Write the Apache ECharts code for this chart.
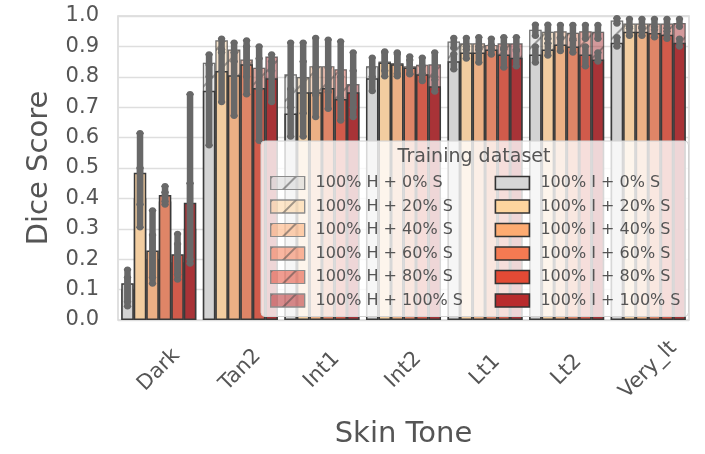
<!DOCTYPE html>
<html>
<head>
<meta charset="utf-8">
<script src="https://cdn.jsdelivr.net/npm/echarts@6/dist/echarts.min.js"></script>
<style>
  html, body { margin: 0; padding: 0; background: #ffffff; }
  #chart { width: 705px; height: 454px; }
</style>
</head>
<body>
<div id="chart"></div>
<script>
// Skin-tone categories on the x axis
const skinTones = ['Dark', 'Tan2', 'Int1', 'Int2', 'Lt1', 'Lt2', 'Very_lt'];
// Share of synthetic images mixed into each training set
const mixes = ['0%', '20%', '40%', '60%', '80%', '100%'];
const yTicks = [0, 0.1, 0.2, 0.3, 0.4, 0.5, 0.6, 0.7, 0.8, 0.9, 1.0];

// "100% I + x% S" runs: mean Dice and confidence interval (rows follow mixes)
const iMean = [
  [0.121, 0.754, 0.679, 0.795, 0.851, 0.873, 0.912],
  [0.484, 0.819, 0.749, 0.847, 0.880, 0.890, 0.948],
  [0.229, 0.805, 0.749, 0.841, 0.880, 0.906, 0.948],
  [0.411, 0.841, 0.763, 0.831, 0.890, 0.900, 0.944],
  [0.216, 0.763, 0.727, 0.808, 0.873, 0.873, 0.938],
  [0.386, 0.795, 0.749, 0.769, 0.863, 0.857, 0.912]
];
const iLow = [
  [0.045, 0.575, 0.604, 0.753, 0.825, 0.847, 0.900],
  [0.380, 0.717, 0.604, 0.802, 0.860, 0.870, 0.935],
  [0.140, 0.672, 0.668, 0.802, 0.847, 0.885, 0.935],
  [0.390, 0.743, 0.695, 0.808, 0.873, 0.880, 0.930],
  [0.150, 0.590, 0.656, 0.786, 0.831, 0.835, 0.925],
  [0.200, 0.717, 0.668, 0.752, 0.835, 0.850, 0.900]
];
const iHigh = [
  [0.165, 0.840, 0.760, 0.830, 0.875, 0.900, 0.930],
  [0.614, 0.890, 0.850, 0.880, 0.900, 0.910, 0.960],
  [0.360, 0.880, 0.830, 0.875, 0.900, 0.925, 0.960],
  [0.440, 0.900, 0.830, 0.855, 0.905, 0.920, 0.955],
  [0.283, 0.860, 0.800, 0.835, 0.895, 0.900, 0.950],
  [0.743, 0.850, 0.820, 0.790, 0.885, 0.880, 0.925]
];

// "100% H + x% S" runs: mean Dice and confidence interval
const hMean = [
  [0.100, 0.846, 0.808, 0.835, 0.916, 0.955, 0.985],
  [0.400, 0.920, 0.799, 0.850, 0.910, 0.948, 0.975],
  [0.200, 0.890, 0.835, 0.845, 0.910, 0.950, 0.975],
  [0.390, 0.857, 0.835, 0.835, 0.905, 0.945, 0.975],
  [0.190, 0.830, 0.825, 0.840, 0.910, 0.950, 0.975],
  [0.300, 0.867, 0.776, 0.841, 0.910, 0.948, 0.977]
];
const hLow = [
  [0.060, 0.800, 0.700, 0.800, 0.895, 0.935, 0.975],
  [0.305, 0.880, 0.680, 0.820, 0.890, 0.925, 0.965],
  [0.120, 0.850, 0.740, 0.810, 0.890, 0.930, 0.965],
  [0.380, 0.800, 0.750, 0.810, 0.890, 0.925, 0.965],
  [0.133, 0.760, 0.730, 0.810, 0.890, 0.925, 0.960],
  [0.186, 0.820, 0.700, 0.800, 0.890, 0.925, 0.965]
];
const hHigh = [
  [0.140, 0.873, 0.912, 0.863, 0.928, 0.971, 0.993],
  [0.500, 0.925, 0.912, 0.883, 0.928, 0.971, 0.990],
  [0.280, 0.912, 0.928, 0.880, 0.930, 0.970, 0.990],
  [0.420, 0.919, 0.922, 0.867, 0.925, 0.970, 0.990],
  [0.250, 0.900, 0.916, 0.863, 0.930, 0.970, 0.990],
  [0.450, 0.873, 0.880, 0.880, 0.930, 0.970, 0.990]
];

// Palette: muted fills for bars, full-strength swatches for the legend
const barFill = ['#d3d3d3', '#f2cda0', '#ecb085', '#df8567', '#d15b4b', '#a83337'];
const keyFill = ['#d6d6d6', '#fdd49e', '#fdab72', '#f57a52', '#e34a35', '#b82b2d'];

const FONT = 'DejaVu Sans';
const TEXT = '#555555';
const ERR = '#686868';
const GAP = 0.08; // barCategoryGap as a fraction

function alpha(hex, a) {
  const n = parseInt(hex.slice(1), 16);
  return 'rgba(' + (n >> 16) + ',' + ((n >> 8) & 255) + ',' + (n & 255) + ',' + a + ')';
}

const hatch = {
  symbol: 'rect',
  symbolSize: 1,
  dashArrayX: [1, 0],
  dashArrayY: [1.3, 15],
  rotation: -Math.PI / 4,
  color: 'rgba(70,70,70,0.5)'
};

const hName = m => '100% H + ' + m + ' S';
const iName = m => '100% I + ' + m + ' S';

const series = [];
mixes.forEach((m, k) => {
  series.push({
    name: hName(m),
    type: 'bar',
    xAxisIndex: 1,
    z: 1,
    barGap: '0%',
    barCategoryGap: (GAP * 100) + '%',
    data: hMean[k],
    itemStyle: {
      color: alpha(barFill[k], 0.5),
      borderColor: 'rgba(60,60,60,0.45)',
      borderWidth: 1.2,
      decal: hatch
    },
    emphasis: { disabled: true }
  });
});
mixes.forEach((m, k) => {
  series.push({
    name: iName(m),
    type: 'bar',
    xAxisIndex: 0,
    z: 2,
    barGap: '0%',
    barCategoryGap: (GAP * 100) + '%',
    data: iMean[k],
    itemStyle: {
      color: barFill[k],
      borderColor: '#3a3a3a',
      borderWidth: 1.5
    },
    emphasis: { disabled: true }
  });
});

// Confidence-interval whiskers placed on each bar's slot
function whisker(params, api) {
  const c = api.value(0), lo = api.value(1), hi = api.value(2), k = api.value(3);
  const catW = api.size([1, 0])[0];
  const barW = catW * (1 - GAP) / mixes.length;
  const top = api.coord([c, hi]);
  const bot = api.coord([c, lo]);
  const x = top[0] + (k - (mixes.length - 1) / 2) * barW;
  const cap = { stroke: ERR, lineWidth: 3.5, lineCap: 'round' };
  return {
    type: 'group',
    children: [
      { type: 'line', shape: { x1: x, y1: top[1], x2: x, y2: bot[1] }, style: { stroke: ERR, lineWidth: 6.5, lineCap: 'round' } },
      { type: 'line', shape: { x1: x - 2, y1: top[1], x2: x + 2, y2: top[1] }, style: cap },
      { type: 'line', shape: { x1: x - 2, y1: bot[1], x2: x + 2, y2: bot[1] }, style: cap }
    ]
  };
}

function whiskerData(low, high) {
  const out = [];
  mixes.forEach((m, k) => {
    skinTones.forEach((s, c) => out.push([c, low[k][c], high[k][c], k]));
  });
  return out;
}

series.push({
  type: 'custom', name: 'ci-h', xAxisIndex: 0, z: 3, silent: true,
  renderItem: whisker, data: whiskerData(hLow, hHigh),
  encode: { x: 0, y: [1, 2] }
});
series.push({
  type: 'custom', name: 'ci-i', xAxisIndex: 0, z: 3, silent: true,
  renderItem: whisker, data: whiskerData(iLow, iHigh),
  encode: { x: 0, y: [1, 2] }
});

// Legend: two columns (H runs left, I runs right)
const legendData = [];
mixes.forEach((m, k) => {
  legendData.push({
    name: hName(m),
    icon: 'rect',
    itemStyle: { color: alpha(keyFill[k], 0.55), borderColor: '#8c8c8c', borderWidth: 1.2, decal: hatch },
    textStyle: { width: 171.5 }
  });
  legendData.push({
    name: iName(m),
    icon: 'rect',
    itemStyle: { color: keyFill[k], borderColor: '#333333', borderWidth: 1.6 },
    textStyle: { width: 140 }
  });
});

const chart = echarts.init(document.getElementById('chart'), null, { renderer: 'canvas' });
chart.setOption({
  animation: false,
  backgroundColor: '#ffffff',
  textStyle: { fontFamily: FONT },
  grid: {
    left: 118, right: 16, top: 16, bottom: 130,
    show: true, borderColor: '#d6d6d6', borderWidth: 1.5, backgroundColor: 'transparent'
  },
  xAxis: [
    {
      type: 'category',
      data: skinTones,
      axisLine: { show: false },
      axisTick: { show: false },
      axisLabel: {
        rotate: 45, margin: 50, align: 'center', verticalAlign: 'middle',
        fontSize: 21, color: TEXT, fontFamily: FONT, interval: 0
      },
      name: 'Skin Tone',
      nameLocation: 'middle',
      nameGap: 100,
      nameTextStyle: { fontSize: 29, color: TEXT, fontFamily: FONT, verticalAlign: 'top' }
    },
    {
      type: 'category',
      data: skinTones,
      show: false
    }
  ],
  yAxis: {
    type: 'value',
    min: yTicks[0],
    max: yTicks[yTicks.length - 1],
    interval: 0.1,
    axisLine: { show: false },
    axisTick: { show: false },
    splitLine: { lineStyle: { color: '#dedede', width: 1.3 } },
    axisLabel: {
      margin: 19, fontSize: 21, color: TEXT, fontFamily: FONT,
      formatter: v => v.toFixed(1)
    },
    name: 'Dice Score',
    nameLocation: 'middle',
    nameGap: 64,
    nameTextStyle: { fontSize: 29, color: TEXT, fontFamily: FONT }
  },
  legend: {
    left: 261, top: 141, width: 420,
    orient: 'horizontal',
    itemWidth: 34, itemHeight: 13, itemGap: 7.5,
    padding: [34, 8, 8, 9],
    backgroundColor: 'rgba(255,255,255,0.8)',
    borderColor: '#d2d2d2', borderWidth: 1, borderRadius: 4,
    selectedMode: false,
    textStyle: { fontSize: 16, color: TEXT, fontFamily: FONT, lineHeight: 16, padding: [0, 0, 0, 6] },
    data: legendData
  },
  graphic: [{
    type: 'text', x: 474, y: 157, z: 100, silent: true,
    style: {
      text: 'Training dataset', fill: TEXT, fontSize: 19, fontFamily: FONT,
      textAlign: 'center', textVerticalAlign: 'middle'
    }
  }],
  series: series
});
</script>
</body>
</html>
